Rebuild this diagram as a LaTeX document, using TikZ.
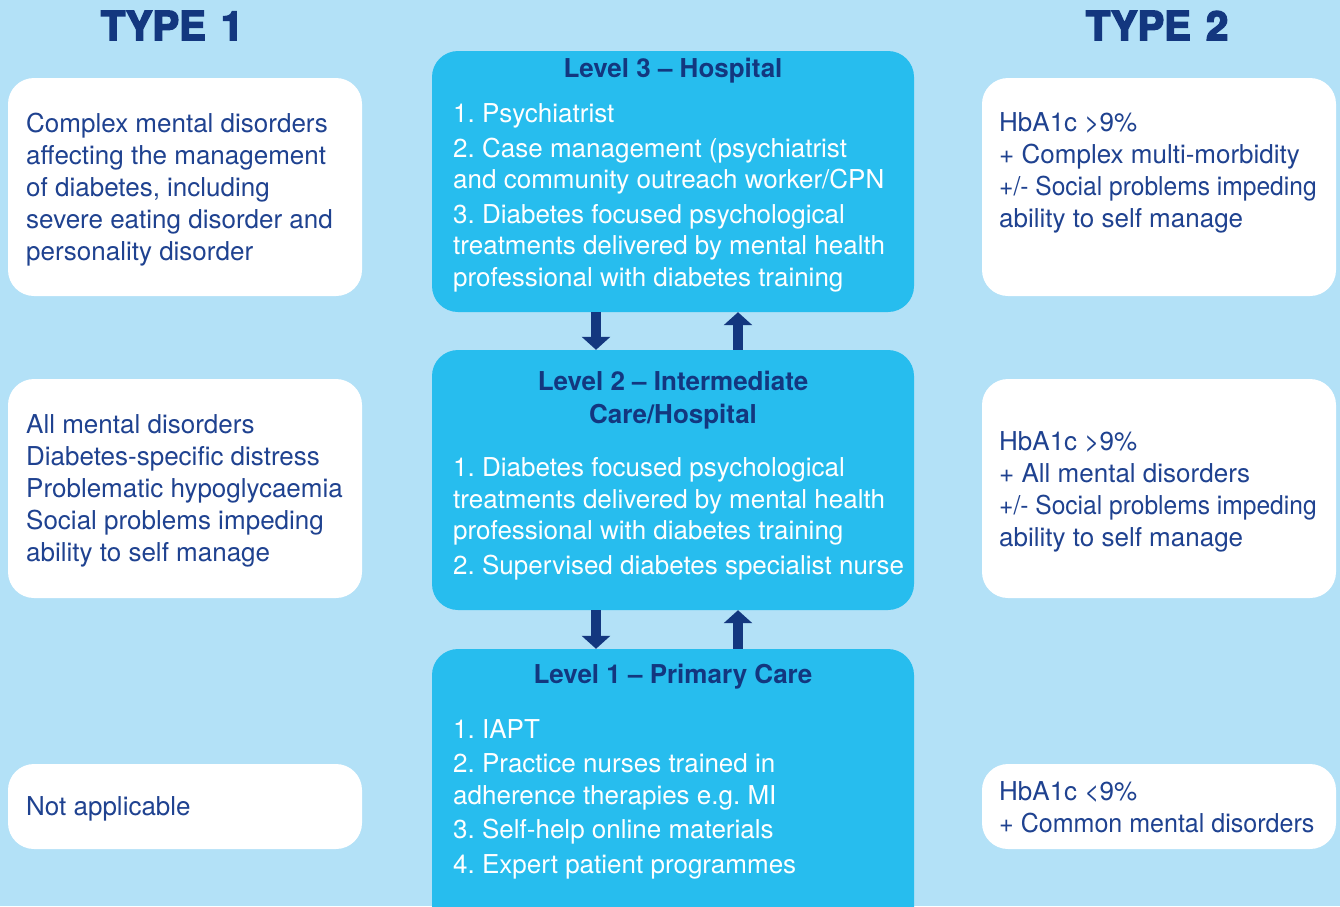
\documentclass[tikz,border=0pt]{standalone}
\usepackage{fontspec}
\usepackage{graphicx}
\setmainfont{TeX Gyre Heros}
\newfontfamily\heavyfont{TeX Gyre Heros}[BoldFeatures={FakeBold=4}]
\usetikzlibrary{arrows.meta}
\frenchspacing
\definecolor{bgblue}{HTML}{B3E1F7}
\definecolor{midblue}{HTML}{27BDEE}
\definecolor{navy}{HTML}{13377F}
\definecolor{txtblue}{HTML}{1F4290}
\newcommand{\tightline}[2]{\scalebox{#1}[1]{#2}}
\tikzset{
  whitebox/.style={fill=white, draw=none, rounded corners=26pt, minimum width=354pt, inner sep=0pt},
  midbox/.style={fill=midblue, draw=none, rounded corners=26pt, minimum width=482pt, inner sep=0pt},
  sidetext/.style={anchor=base west, align=left, inner sep=0pt, text=txtblue, font=\fontsize{26}{32}\selectfont\frenchspacing},
  bodytext/.style={anchor=base west, align=left, inner sep=0pt, text=white, font=\fontsize{26}{31.5}\selectfont\frenchspacing},
  leveltitle/.style={anchor=base, align=center, inner sep=0pt, text=navy, font=\fontsize{26}{33}\selectfont\bfseries},
  typetitle/.style={anchor=base, inner sep=0pt, text=navy, font=\fontsize{40}{44}\selectfont\heavyfont\bfseries},
  updown/.style={draw=navy, line width=10pt, -{Triangle[width=28pt,length=13pt]}}
}
\begin{document}
\begin{tikzpicture}[x=1pt,y=-1pt]
\useasboundingbox (0,0) rectangle (1340,906);
\fill[bgblue] (0,0) rectangle (1340,906);

% titles
\node[typetitle] (t1) at (172,40) {TYPE\hspace{4pt} 1};
\node[typetitle] (t2) at (1157,40) {TYPE\hspace{4pt} 2};

% left boxes
\node[whitebox, minimum height=218pt] (lb1) at (185,187) {};
\node[whitebox, minimum height=219pt] (lb2) at (185,488.5) {};
\node[whitebox, minimum height=85pt] (lb3) at (185,806.5) {};
% right boxes
\node[whitebox, minimum height=218pt] (rb1) at (1159,187) {};
\node[whitebox, minimum height=219pt] (rb2) at (1159,488.5) {};
\node[whitebox, minimum height=85pt] (rb3) at (1159,806.5) {};

% middle boxes
\node[midbox, minimum height=261pt] (l3) at (673,181.5) {};
\node[midbox, minimum height=260pt] (l2) at (673,480) {};
\node[midbox, minimum height=300pt] (l1) at (673,799) {};

% left texts (anchor = baseline of last line)
\node[sidetext] (lt1) at (26,260) {Complex mental disorders\\affecting the management\\of diabetes, including\\severe eating disorder and\\personality disorder};
\node[sidetext] (lt2) at (26,561) {All mental disorders\\Diabetes-specific distress\\Problematic hypoglycaemia\\Social problems impeding\\ability to self manage};
\node[sidetext] (lt3) at (26,815) {Not applicable};

% right texts
\node[sidetext] (rt1) at (999,227) {HbA1c >9\%\\+ Complex multi-morbidity\\\tightline{0.945}{+/- Social problems impeding}\\ability to self manage};
\node[sidetext] (rt2) at (999,546) {HbA1c >9\%\\+ All mental disorders\\\tightline{0.945}{+/- Social problems impeding}\\ability to self manage};
\node[sidetext] (rt3) at (999,832) {HbA1c <9\%\\\tightline{0.963}{+ Common mental disorders}};

% level 3
\node[leveltitle] (h3) at (673,77) {Level 3 – Hospital};
\node[bodytext] (b3) at (453,286) {1. Psychiatrist\\[3pt]2. Case management (psychiatrist\\and community outreach worker/CPN\\[3pt]3. Diabetes focused psychological\\treatments delivered by mental health\\professional with diabetes training};

% level 2
\node[leveltitle] (h2) at (673,423) {Level 2 – Intermediate\\Care/Hospital};
\node[bodytext] (b2) at (453,574) {1. Diabetes focused psychological\\treatments delivered by mental health\\professional with diabetes training\\[3pt]2. Supervised diabetes specialist nurse};

% level 1
\node[leveltitle] (h1) at (673,683) {Level 1 – Primary Care};
\node[bodytext] (b1) at (453,873) {1. IAPT\\[3pt]2. Practice nurses trained in\\adherence therapies e.g. MI\\[3pt]3. Self-help online materials\\[3pt]4. Expert patient programmes};

% arrows
\coordinate (xd) at (596,0);
\coordinate (xu) at (738,0);
\draw[updown] (l3.south -| xd) -- (l2.north -| xd);
\draw[updown] (l2.north -| xu) -- (l3.south -| xu);
\draw[updown] (l2.south -| xd) -- (l1.north -| xd);
\draw[updown] (l1.north -| xu) -- (l2.south -| xu);
\end{tikzpicture}
\end{document}
